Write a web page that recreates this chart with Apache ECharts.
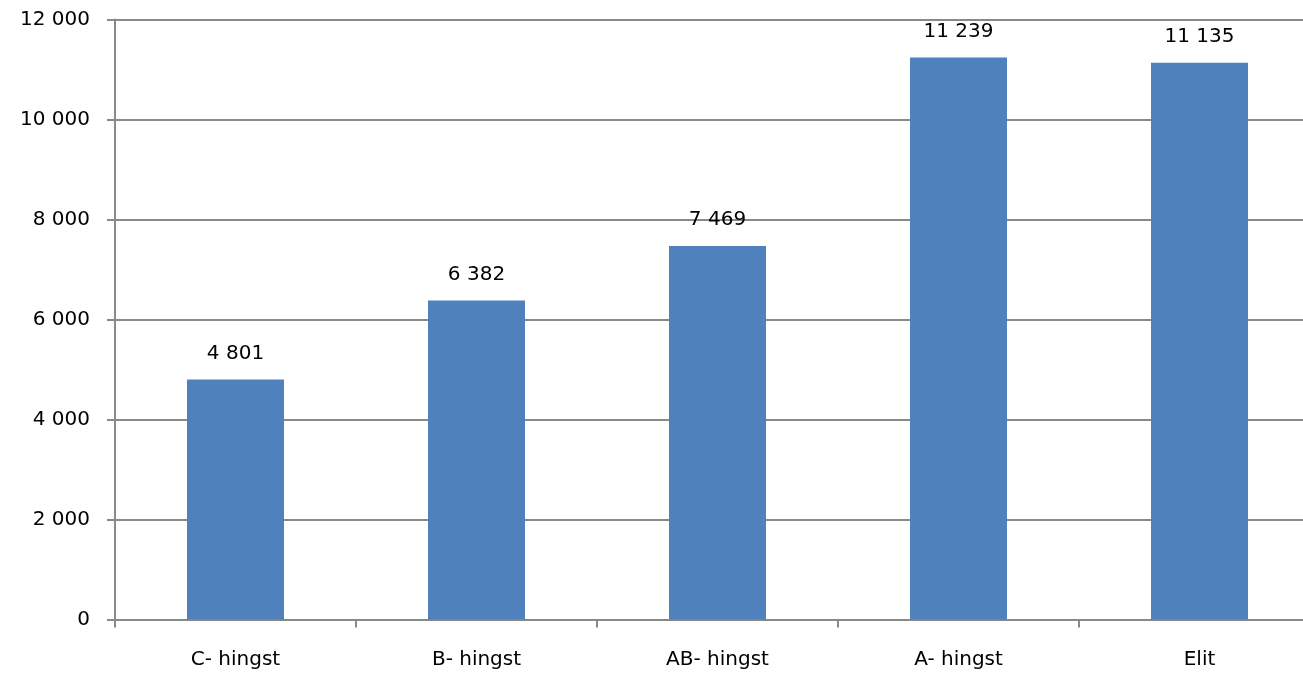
<!DOCTYPE html>
<html>
<head>
<meta charset="utf-8">
<script src="https://cdn.jsdelivr.net/npm/echarts@6/dist/echarts.min.js"></script>
<style>html,body{margin:0;padding:0;background:#fff;overflow:hidden}#c{width:1321px;height:676px}</style>
</head>
<body>
<div id="c"></div>
<script>
const categories = ['C- hingst', 'B- hingst', 'AB- hingst', 'A- hingst', 'Elit'];
const values = [4801, 6382, 7469, 11239, 11135];
const yTicks = { min: 0, max: 12000, interval: 2000 };

function fmt(v) {
  return String(v).replace(/\B(?=(\d{3})+(?!\d))/g, ' ');
}

const chart = echarts.init(document.getElementById('c'));
const font = 'DejaVu Sans';
chart.setOption({
  animation: false,
  backgroundColor: '#fff',
  grid: { left: 115, top: 19.5, right: 1, bottom: 56.5, containLabel: false, outerBoundsMode: 'none' },
  xAxis: {
    type: 'category',
    data: categories,
    axisLine: { show: true, lineStyle: { color: '#898989', width: 2 } },
    axisTick: { show: true, length: 8, lineStyle: { color: '#898989', width: 2 } },
    axisLabel: { color: '#000', fontFamily: font, fontSize: 20, margin: 30 },
    splitLine: { show: false }
  },
  yAxis: {
    type: 'value',
    min: yTicks.min, max: yTicks.max, interval: yTicks.interval,
    axisLine: { show: true, lineStyle: { color: '#898989', width: 2 } },
    axisTick: { show: true, length: 8, lineStyle: { color: '#898989', width: 2 } },
    axisLabel: { color: '#000', fontFamily: font, fontSize: 20, margin: 25, formatter: fmt },
    splitLine: { show: true, lineStyle: { color: '#898989', width: 2 } }
  },
  series: [{
    type: 'bar',
    data: values,
    barWidth: 97,
    itemStyle: { color: '#4F81BD' },
    label: {
      show: true, position: 'top', distance: 16,
      color: '#000', fontFamily: font, fontSize: 20,
      formatter: p => fmt(p.value)
    }
  }]
});
</script>
</body>
</html>
